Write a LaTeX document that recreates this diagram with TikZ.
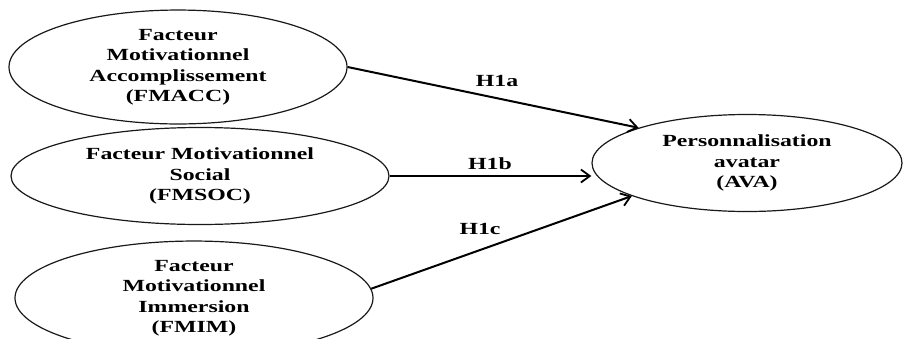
\documentclass[tikz,border=0pt]{standalone}
\usepackage{fontspec}
\setmainfont{Liberation Serif}
\usepackage{graphicx}
\usetikzlibrary{shapes.geometric,arrows.meta}
\newcommand{\ftxt}[1]{\scalebox{1.4}[1]{\renewcommand{\arraystretch}{1.06}\begin{tabular}{@{}c@{}}#1\end{tabular}}}
\begin{document}
\begin{tikzpicture}[x=1pt,y=-1pt,
  ell/.style={draw=black!90, line width=1.2pt, ellipse, inner sep=0pt,
    font=\fontsize{17}{19}\selectfont\bfseries},
  hyp/.style={font=\fontsize{17}{19}\selectfont\bfseries, inner sep=0pt},
  arr/.style={line width=2pt, -{Straight Barb[length=9pt,width=13pt,line width=1.8pt]}}
]
\path[use as bounding box, fill=white] (0,0) rectangle (907,338);
\clip (0,0) rectangle (907,338);
\node[ell, minimum width=338pt, minimum height=112pt] (e1) at (178,67)
  {\ftxt{Facteur\\Motivationnel\\Accomplissement\\(FMACC)}};
\node[ell, minimum width=378pt, minimum height=97pt] (e2) at (200,176)
  {\ftxt{Facteur Motivationnel\\Social\\(FMSOC)}};
\node[ell, minimum width=358pt, minimum height=112pt] (e3) at (194,298)
  {\ftxt{Facteur\\Motivationnel\\Immersion\\(FMIM)}};
\node[ell, minimum width=310pt, minimum height=97pt] (ava) at (747,163)
  {\ftxt{Personnalisation\\avatar\\(AVA)}};
\draw[arr] (e1.east) -- (ava.162);
\draw[arr] (e2.east) -- (e2.east -| ava.west);
\draw[arr] (e3.3) -- (ava.196);
\node[hyp] (h1a) at (497,81) {\scalebox{1.4}[1]{H1a}};
\node[hyp] (h1b) at (490,164) {\scalebox{1.4}[1]{H1b}};
\node[hyp] (h1c) at (480,229) {\scalebox{1.4}[1]{H1c}};
\end{tikzpicture}
\end{document}
